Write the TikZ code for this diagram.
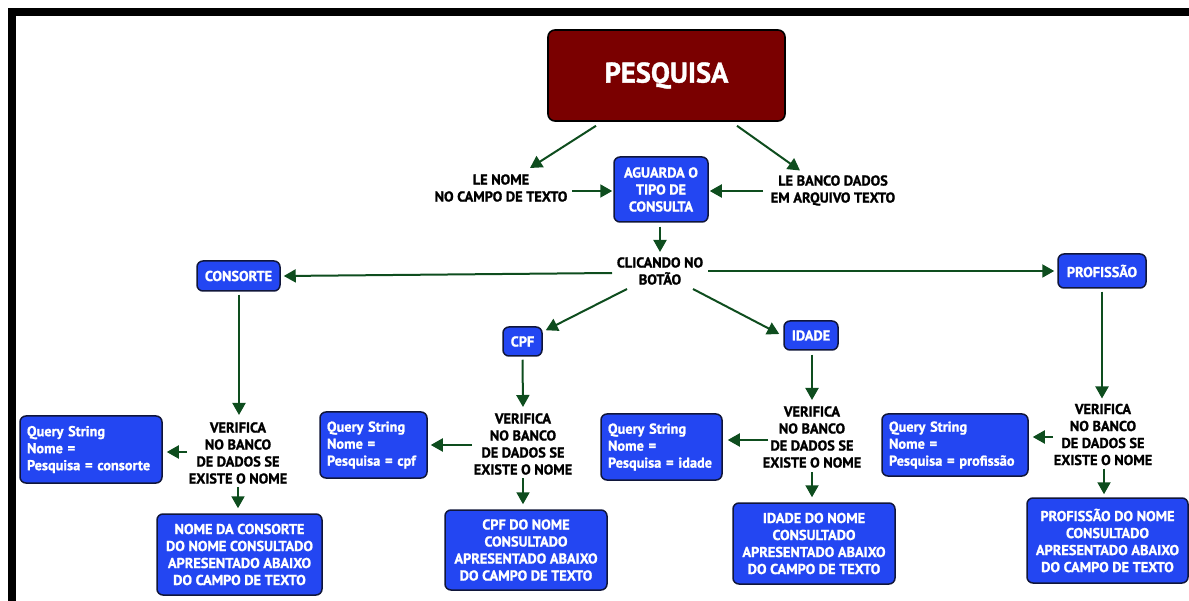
\documentclass[tikz,border=0pt]{standalone}
\usepackage{fontspec}
\setmainfont{PT Sans}[BoldFeatures={FakeBold=1.2}]
\usetikzlibrary{arrows.meta}

\definecolor{boxblue}{HTML}{2346F2}
\definecolor{boxedge}{HTML}{10163A}
\definecolor{titlered}{HTML}{7A0000}
\definecolor{arrowgreen}{HTML}{0E4D1E}

\tikzset{
  labeltext/.style={font=\bfseries\fontsize{14.3}{17}\selectfont, align=center,
    inner sep=0pt, text=black},
  bluebox/.style={draw=boxedge, line width=1.5pt, fill=boxblue, rounded corners=6pt,
    text=white, font=\bfseries\fontsize{14.3}{17}\selectfont, align=center, inner sep=0pt},
  querybox/.style={bluebox, align=left, inner xsep=7pt},
  titlebox/.style={draw=black, line width=1.6pt, fill=titlered, rounded corners=7pt,
    text=white, font=\bfseries\fontsize{28.5}{32}\selectfont},
  flow/.style={draw=arrowgreen, line width=2pt, -{Triangle[length=12pt,width=13pt]}},
}

\begin{document}
\begin{tikzpicture}[x=1pt, y=-1pt]
\useasboundingbox (0,0) rectangle (1189,601);

% frame along the top and left edges
\fill[black] (8,8) rectangle (1189,16);
\fill[black] (8,8) rectangle (16,601);

% title and first step
\node[titlebox, minimum width=237pt, minimum height=91pt] (pesq) at (666.5,75.5) {PESQUISA};
\node[bluebox, minimum width=94pt, minimum height=65pt] (aguarda) at (661,189.5) {AGUARDA O\\TIPO DE\\CONSULTA};
\node[labeltext] (lenome) at (501,188) {LE NOME\\NO CAMPO DE TEXTO};
\node[labeltext] (lebanco) at (833,190.5) {LE BANCO DADOS\\EM ARQUIVO TEXTO};
\node[labeltext] (clicando) at (660,271) {CLICANDO NO\\BOTÃO};

% query types
\node[bluebox, minimum width=83pt, minimum height=30pt] (consorte) at (238.5,276) {CONSORTE};
\node[bluebox, minimum width=88pt, minimum height=34pt] (profissao) at (1102,271) {PROFISSÃO};
\node[bluebox, minimum width=39pt, minimum height=29pt] (cpf) at (522.5,341.5) {CPF};
\node[bluebox, minimum width=54pt, minimum height=29pt] (idade) at (811,335.5) {IDADE};

% database checks
\node[labeltext] (v1) at (238,453) {VERIFICA\\NO BANCO\\DE DADOS SE\\EXISTE O NOME};
\node[labeltext] (v2) at (523,444) {VERIFICA\\NO BANCO\\DE DADOS SE\\EXISTE O NOME};
\node[labeltext] (v3) at (812,437) {VERIFICA\\NO BANCO\\DE DADOS SE\\EXISTE O NOME};
\node[labeltext] (v4) at (1103,434.5) {VERIFICA\\NO BANCO\\DE DADOS SE\\EXISTE O NOME};

% query strings
\node[querybox, text width=128pt, minimum height=67pt] (q1) at (91,449.5) {Query String\\Nome =\\Pesquisa = consorte};
\node[querybox, text width=93pt, minimum height=66pt] (q2) at (373.5,445) {Query String\\Nome =\\Pesquisa = cpf};
\node[querybox, text width=107pt, minimum height=66pt] (q3) at (661.5,447) {Query String\\Nome =\\Pesquisa = idade};
\node[querybox, text width=132pt, minimum height=62pt] (q4) at (955,445) {Query String\\Nome =\\Pesquisa = profissão};

% results
\node[bluebox, minimum width=165pt, minimum height=81pt] (r1) at (239.5,554.5) {NOME DA CONSORTE\\DO NOME CONSULTADO\\APRESENTADO ABAIXO\\DO CAMPO DE TEXTO};
\node[bluebox, minimum width=162pt, minimum height=80pt] (r2) at (526,550) {CPF DO NOME\\CONSULTADO\\APRESENTADO ABAIXO\\DO CAMPO DE TEXTO};
\node[bluebox, minimum width=162pt, minimum height=81pt] (r3) at (814,543.5) {IDADE DO NOME\\CONSULTADO\\APRESENTADO ABAIXO\\DO CAMPO DE TEXTO};
\node[bluebox, minimum width=161pt, minimum height=85pt] (r4) at (1107.5,540.5) {PROFISSÃO DO NOME\\CONSULTADO\\APRESENTADO ABAIXO\\DO CAMPO DE TEXTO};

% connectors
\draw[flow] ([xshift=-70.5pt,yshift=-4pt]pesq.south) -- ([xshift=29pt,yshift=20pt]lenome.center);
\draw[flow] ([xshift=70.5pt,yshift=-4pt]pesq.south) -- ([xshift=-33pt,yshift=20pt]lebanco.center);
\draw[flow] ([xshift=71pt,yshift=-3pt]lenome.center) -- ([xshift=-1pt,yshift=-1.5pt]aguarda.west);
\draw[flow] ([xshift=-70pt,yshift=-0.5pt]lebanco.center) -- ([xshift=1pt,yshift=-1.5pt]aguarda.east);
\draw[flow] ([xshift=-1pt,yshift=-4pt]aguarda.south) -- ([yshift=19pt]clicando.center);

\draw[flow] ([xshift=-48pt,yshift=-2pt]clicando.center) -- ([xshift=3pt]consorte.east);
\draw[flow] ([xshift=48pt]clicando.center) -- ([xshift=-3pt]profissao.west);
\draw[flow] ([xshift=-33pt,yshift=-18pt]clicando.center) -- ([xshift=3pt,yshift=-4pt]cpf.north east);
\draw[flow] ([xshift=33pt,yshift=-18pt]clicando.center) -- ([xshift=-4pt,yshift=1.5pt]idade.west);

\draw[flow] ([xshift=0.5pt,yshift=-3pt]consorte.south) -- ([xshift=1pt,yshift=38pt]v1.center);
\draw[flow] ([yshift=-3pt]cpf.south) -- ([yshift=37pt]v2.center);
\draw[flow] ([xshift=1pt,yshift=-4pt]idade.south) -- ([yshift=37pt]v3.center);
\draw[flow] ([yshift=-3pt]profissao.south) -- ([xshift=-1pt,yshift=36pt]v4.center);

\draw[flow] ([xshift=-51pt,yshift=1pt]v1.center) -- ([xshift=4pt,yshift=-2.5pt]q1.east);
\draw[flow] ([xshift=-51pt,yshift=-1pt]v2.center) -- ([xshift=3pt]q2.east);
\draw[flow] ([xshift=-44pt,yshift=-3pt]v3.center) -- ([xshift=5pt,yshift=7pt]q3.east);
\draw[flow] ([xshift=-50pt,yshift=-2.5pt]v4.center) -- ([xshift=4pt,yshift=8pt]q4.east);

\draw[flow] ([yshift=-34pt]v1.center) -- ([xshift=-1.5pt,yshift=5pt]r1.north);
\draw[flow] ([yshift=-34pt]v2.center) -- ([xshift=-3pt,yshift=5pt]r2.north);
\draw[flow] ([yshift=-35pt]v3.center) -- ([xshift=-2pt,yshift=5pt]r3.north);
\draw[flow] ([xshift=1pt,yshift=-34pt]v4.center) -- ([xshift=-3.5pt,yshift=3pt]r4.north);
\end{tikzpicture}
\end{document}
